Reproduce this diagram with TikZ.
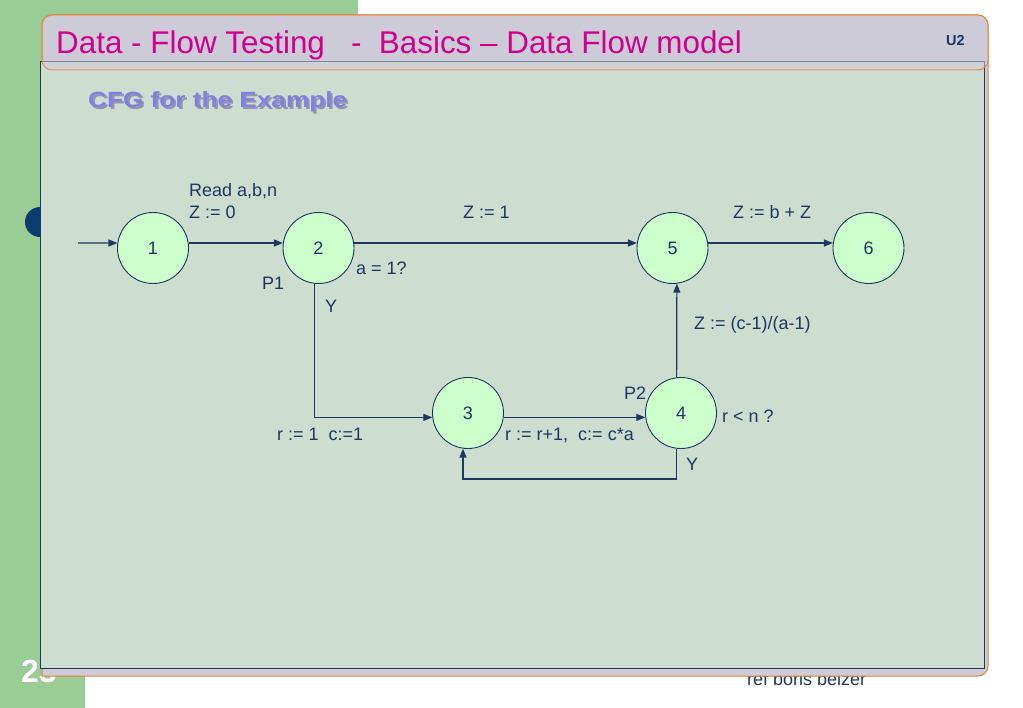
\documentclass[tikz,border=0pt]{standalone}
\usepackage{fontspec}
\setmainfont{Liberation Sans}
\usetikzlibrary{arrows.meta}
\definecolor{bandgreen}{RGB}{154,204,150}
\definecolor{framelav}{RGB}{206,203,216}
\definecolor{frameorange}{RGB}{232,128,48}
\definecolor{contentbg}{RGB}{205,221,208}
\definecolor{navy}{RGB}{30,55,95}
\definecolor{dotnavy}{RGB}{10,60,110}
\definecolor{nodegreen}{RGB}{204,255,204}
\definecolor{titlemag}{RGB}{206,0,140}
\definecolor{cfgblue}{RGB}{128,128,224}
\definecolor{cfgshadow}{RGB}{150,150,170}
\tikzset{
  statenode/.style={circle, draw=navy, line width=0.9pt, fill=nodegreen, minimum size=71pt, inner sep=0pt, text=navy, font=\fontsize{18}{20}\selectfont},
  lbl/.style={anchor=base west, inner sep=0pt, text=navy, font=\fontsize{18}{20}\selectfont},
  flow/.style={draw=navy, line width=1.2pt, -{Triangle[length=9pt,width=7pt]}},
}
\begin{document}
\begin{tikzpicture}[x=1pt,y=-1pt]
\useasboundingbox (0,0) rectangle (1023,708);
% background band
\fill[bandgreen] (0,0) rectangle (358,60);
\fill[bandgreen] (0,0) rectangle (85,708);
\fill[dotnavy] (40,222) circle (15);
\node[anchor=base west, inner sep=0pt, text=white, font=\fontsize{32}{34}\selectfont\bfseries] (pagenum) at (21,682) {23};
\node[anchor=base west, inner sep=0pt, text=navy, font=\fontsize{18}{20}\selectfont] (ref) at (747,685) {ref boris beizer};
% outer frame
\filldraw[fill=framelav, draw=frameorange, line width=1pt, rounded corners=10pt] (42,676) -- (42,15) -- (988,15) -- (988,676) [sharp corners] -- cycle;
% content box
\filldraw[fill=contentbg, draw=navy, line width=1pt] (40,62) rectangle (984,668);
% title overlay
\filldraw[fill=framelav, fill opacity=0.55, draw=frameorange, draw opacity=0.8, line width=1pt, rounded corners=10pt] (42,15) rectangle (988,70);
\node[anchor=base west, inner sep=0pt, text=titlemag, font=\fontsize{31.4}{33}\selectfont] (title) at (56,54) {Data - Flow Testing \ \ - \ Basics – Data Flow model};
\node[anchor=base west, inner sep=0pt, text=navy, font=\fontsize{14.5}{16}\selectfont\bfseries] (unit) at (946,46) {U2};
\node[anchor=base west, inner sep=0pt, text=cfgshadow, font=\fontsize{22}{24}\selectfont\bfseries] (cfgsh) at (90,110) {\scalebox{1.19}[1]{CFG for the Example}};
\node[anchor=base west, inner sep=0pt, text=cfgblue, font=\fontsize{22}{24}\selectfont\bfseries] (cfg) at (88,108) {\scalebox{1.19}[1]{CFG for the Example}};
% nodes
\node[statenode] (n1) at (153,248) {1};
\node[statenode] (n2) at (318.5,248) {2};
\node[statenode] (n5) at (672.5,248) {5};
\node[statenode] (n6) at (868.5,248) {6};
\node[statenode] (n3) at (468,413) {3};
\node[statenode] (n4) at (681,413) {4};
\coordinate (start) at (78,243);
\coordinate (loopy) at (0,479);
% edges
\draw[flow] (start) -- (n1.172);
\draw[flow] (n1.8) -- (n2.172);
\draw[flow] (n2.8) -- (n5.172);
\draw[flow] (n5.8) -- (n6.172);
\draw[flow] (n2.263) |- (n3.187);
\draw[flow] (n3.-7) -- (n4.187);
\draw[flow] (n4.263) -- (n4.263 |- loopy) -- (n3.262 |- loopy) -- (n3.262);
\draw[flow] (n4.97) -- (n5.277);
% labels
\node[lbl] (l1) at (189,197) {Read a,b,n};
\node[lbl] (l2) at (189,219) {Z := 0};
\node[lbl] (p1) at (262,290) {P1};
\node[lbl] (q1) at (356,275) {a = 1?};
\node[lbl] (y1) at (325,313) {Y};
\node[lbl] (z1) at (463,219) {Z := 1};
\node[lbl] (z2) at (733,219) {Z := b + Z};
\node[lbl] (z3) at (694,330) {Z := (c-1)/(a-1)};
\node[lbl] (p2) at (624,400) {P2};
\node[lbl] (q2) at (722,423) {r < n ?};
\node[lbl] (y2) at (686,471) {Y};
\node[lbl] (r1) at (277,440) {r := 1 \ c:=1};
\node[lbl] (r2) at (505,440) {r := r+1, \ c:= c*a};
\end{tikzpicture}
\end{document}
